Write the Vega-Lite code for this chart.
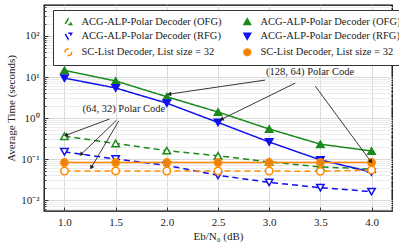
{
  "$schema": "https://vega.github.io/schema/vega-lite/v6.json",
  "width": 348,
  "height": 206,
  "autosize": "none",
  "padding": {"left": 44, "top": 5, "right": 7, "bottom": 33},
  "background": "white",
  "config": {
    "font": "Liberation Serif",
    "view": {"stroke": "#000000", "strokeWidth": 1.3},
    "axis": {
      "domain": false,
      "labelFont": "Liberation Serif",
      "titleFont": "Liberation Serif",
      "labelFontSize": 11,
      "titleFontSize": 11,
      "labelColor": "#222222",
      "titleColor": "#222222",
      "titleFontWeight": "normal",
      "tickColor": "#333333"
    }
  },
  "datasets": {
    "series": [
      {"x": 1.0, "t": 0.36, "s": "OFG-d"},
      {"x": 1.5, "t": 0.24, "s": "OFG-d"},
      {"x": 2.0, "t": 0.16, "s": "OFG-d"},
      {"x": 2.5, "t": 0.12, "s": "OFG-d"},
      {"x": 3.0, "t": 0.085, "s": "OFG-d"},
      {"x": 3.5, "t": 0.064, "s": "OFG-d"},
      {"x": 4.0, "t": 0.057, "s": "OFG-d"},
      {"x": 1.0, "t": 14.5, "s": "OFG-s"},
      {"x": 1.5, "t": 8.0, "s": "OFG-s"},
      {"x": 2.0, "t": 3.3, "s": "OFG-s"},
      {"x": 2.5, "t": 1.4, "s": "OFG-s"},
      {"x": 3.0, "t": 0.54, "s": "OFG-s"},
      {"x": 3.5, "t": 0.23, "s": "OFG-s"},
      {"x": 4.0, "t": 0.157, "s": "OFG-s"},
      {"x": 1.0, "t": 0.15, "s": "RFG-d"},
      {"x": 1.5, "t": 0.10, "s": "RFG-d"},
      {"x": 2.0, "t": 0.07, "s": "RFG-d"},
      {"x": 2.5, "t": 0.04, "s": "RFG-d"},
      {"x": 3.0, "t": 0.027, "s": "RFG-d"},
      {"x": 3.5, "t": 0.02, "s": "RFG-d"},
      {"x": 4.0, "t": 0.016, "s": "RFG-d"},
      {"x": 1.0, "t": 9.4, "s": "RFG-s"},
      {"x": 1.5, "t": 5.4, "s": "RFG-s"},
      {"x": 2.0, "t": 2.3, "s": "RFG-s"},
      {"x": 2.5, "t": 0.78, "s": "RFG-s"},
      {"x": 3.0, "t": 0.26, "s": "RFG-s"},
      {"x": 3.5, "t": 0.095, "s": "RFG-s"},
      {"x": 4.0, "t": 0.048, "s": "RFG-s"},
      {"x": 1.0, "t": 0.051, "s": "SC-d"},
      {"x": 1.5, "t": 0.051, "s": "SC-d"},
      {"x": 2.0, "t": 0.051, "s": "SC-d"},
      {"x": 2.5, "t": 0.051, "s": "SC-d"},
      {"x": 3.0, "t": 0.051, "s": "SC-d"},
      {"x": 3.5, "t": 0.050, "s": "SC-d"},
      {"x": 4.0, "t": 0.054, "s": "SC-d"},
      {"x": 1.0, "t": 0.082, "s": "SC-s"},
      {"x": 1.5, "t": 0.082, "s": "SC-s"},
      {"x": 2.0, "t": 0.082, "s": "SC-s"},
      {"x": 2.5, "t": 0.082, "s": "SC-s"},
      {"x": 3.0, "t": 0.082, "s": "SC-s"},
      {"x": 3.5, "t": 0.082, "s": "SC-s"},
      {"x": 4.0, "t": 0.082, "s": "SC-s"}
    ],
    "arrows": [
      {"x1": 1.44, "y1": 0.945, "x2": 1.02, "y2": 0.384, "a": 249.6},
      {"x1": 1.51, "y1": 0.89, "x2": 1.167, "y2": 0.133, "a": 225.8},
      {"x1": 1.53, "y1": 0.845, "x2": 1.265, "y2": 0.064, "a": 210.4},
      {"x1": 2.96, "y1": 8.4, "x2": 2.03, "y2": 3.85, "a": 261.6},
      {"x1": 3.255, "y1": 7.1, "x2": 2.54, "y2": 0.945, "a": 243.7},
      {"x1": 3.45, "y1": 6.0, "x2": 3.99, "y2": 0.089, "a": 143.4}
    ],
    "notes": [
      {"x": 1.58, "y": 1.66, "label": "(64, 32) Polar Code"},
      {"x": 3.40, "y": 13.3, "label": "(128, 64) Polar Code"}
    ]
  },
  "layer": [
    {
      "data": {"name": "series"},
      "mark": {"type": "line", "strokeWidth": 1.5},
      "encoding": {
        "x": {
          "field": "x", "type": "quantitative", "title": "Eb/N₀ (dB)",
          "scale": {"domain": [0.8, 4.2], "nice": false, "zero": false},
          "axis": {
            "values": [1, 1.5, 2, 2.5, 3, 3.5, 4],
            "format": ".1f",
            "title": "Eb/N₀ (dB)",
            "grid": true,
            "gridColor": "#d9d9d9",
            "tickSize": -4,
            "labelPadding": 9,
            "titlePadding": 3
          }
        },
        "y": {
          "field": "t", "type": "quantitative", "title": "Average Time (seconds)",
          "scale": {"type": "log", "domain": [0.0054, 570], "nice": false},
          "axis": {
            "values": [0.006, 0.007, 0.008, 0.009, 0.01, 0.02, 0.03, 0.04, 0.05, 0.06, 0.07, 0.08, 0.09, 0.1, 0.2, 0.3, 0.4, 0.5, 0.6, 0.7, 0.8, 0.9, 1, 2, 3, 4, 5, 6, 7, 8, 9, 10, 20, 30, 40, 50, 60, 70, 80, 90, 100, 200, 300, 400, 500],
            "labelExpr": "datum.value == 0.01 ? '10⁻²' : datum.value == 0.1 ? '10⁻¹' : datum.value == 1 ? '10⁰' : datum.value == 10 ? '10¹' : datum.value == 100 ? '10²' : ''",
            "title": "Average Time (seconds)",
            "grid": true,
            "gridColor": {"condition": {"test": "abs(log(datum.value)/LN10 - round(log(datum.value)/LN10)) < 0.001", "value": "#d9d9d9"}, "value": "#ececec"},
            "tickSize": {"condition": {"test": "abs(log(datum.value)/LN10 - round(log(datum.value)/LN10)) < 0.001", "value": -4}, "value": -2},
            "labelPadding": 9,
            "titlePadding": 4
          }
        },
        "stroke": {
          "field": "s", "type": "nominal",
          "scale": {
            "domain": ["OFG-d", "RFG-d", "SC-d", "OFG-s", "RFG-s", "SC-s"],
            "range": ["#1a8a1a", "#1010f0", "#ff8c00", "#1a8a1a", "#1010f0", "#ff8c00"]
          },
          "legend": {
            "title": null,
            "orient": "none",
            "legendX": 9,
            "legendY": 5,
            "columns": 2,
            "columnPadding": 16,
            "rowPadding": 2,
            "padding": 6,
            "symbolSize": 45,
            "symbolStrokeWidth": 1.5,
            "symbolOffset": 4,
            "labelOffset": 8,
            "labelLimit": 200,
            "labelFont": "Liberation Serif",
            "labelFontSize": 10.5,
            "labelColor": "#222222",
            "fillColor": "white",
            "strokeColor": "#333333",
            "labelExpr": "indexof(datum.value, 'OFG') == 0 ? 'ACG-ALP-Polar Decoder (OFG)' : indexof(datum.value, 'RFG') == 0 ? 'ACG-ALP-Polar Decoder (RFG)' : 'SC-List Decoder, List size = 32'",
            "encode": {"symbols": {"update": {"strokeDash": {"value": [1, 0]}}}}
          }
        },
        "strokeDash": {
          "field": "s", "type": "nominal",
          "scale": {
            "domain": ["OFG-d", "RFG-d", "SC-d", "OFG-s", "RFG-s", "SC-s"],
            "range": [[6, 4], [6, 4], [6, 4], [1, 0], [1, 0], [1, 0]]
          },
          "legend": null
        }
      }
    },
    {
      "data": {"name": "series"},
      "mark": {"type": "point", "size": 55, "strokeWidth": 1.5, "opacity": 1},
      "encoding": {
        "x": {"field": "x", "type": "quantitative", "title": "Eb/N₀ (dB)"},
        "y": {"field": "t", "type": "quantitative", "title": "Average Time (seconds)"},
        "stroke": {"field": "s", "type": "nominal"},
        "fill": {
          "field": "s", "type": "nominal",
          "scale": {
            "domain": ["OFG-d", "RFG-d", "SC-d", "OFG-s", "RFG-s", "SC-s"],
            "range": ["white", "white", "white", "#1a8a1a", "#1010f0", "#e8820c"]
          }
        },
        "shape": {
          "field": "s", "type": "nominal",
          "scale": {
            "domain": ["OFG-d", "RFG-d", "SC-d", "OFG-s", "RFG-s", "SC-s"],
            "range": ["triangle-up", "triangle-down", "circle", "triangle-up", "triangle-down", "circle"]
          }
        }
      }
    },
    {
      "data": {"name": "arrows"},
      "mark": {"type": "rule", "color": "#222222", "strokeWidth": 0.9},
      "encoding": {
        "x": {"field": "x1", "type": "quantitative", "title": "Eb/N₀ (dB)"},
        "y": {"field": "y1", "type": "quantitative", "title": "Average Time (seconds)"},
        "x2": {"field": "x2"},
        "y2": {"field": "y2"}
      }
    },
    {
      "data": {"name": "arrows"},
      "mark": {"type": "point", "shape": "triangle", "filled": true, "color": "#222222", "size": 22, "opacity": 1},
      "encoding": {
        "x": {"field": "x2", "type": "quantitative", "title": "Eb/N₀ (dB)"},
        "y": {"field": "y2", "type": "quantitative", "title": "Average Time (seconds)"},
        "angle": {"field": "a", "type": "quantitative", "scale": null}
      }
    },
    {
      "data": {"name": "notes"},
      "mark": {"type": "text", "font": "Liberation Serif", "fontSize": 10.5, "color": "#222222", "align": "center", "baseline": "middle"},
      "encoding": {
        "x": {"field": "x", "type": "quantitative", "title": "Eb/N₀ (dB)"},
        "y": {"field": "y", "type": "quantitative", "title": "Average Time (seconds)"},
        "text": {"field": "label"}
      }
    }
  ]
}
